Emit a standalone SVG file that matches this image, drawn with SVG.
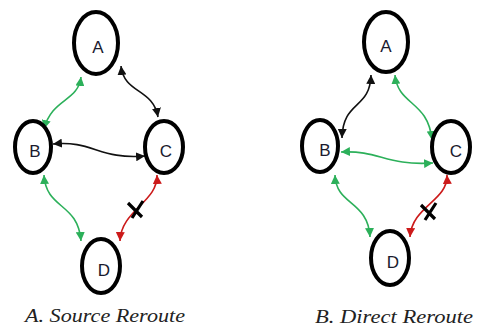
<svg xmlns="http://www.w3.org/2000/svg" width="481" height="327" viewBox="0 0 481 327">
<style>
.node ellipse{fill:#fff;stroke:#000;stroke-width:4}
.node text{font-family:"Liberation Sans","DejaVu Sans",sans-serif;font-size:17px;fill:#1a1a2e;text-anchor:middle}
.c{fill:none;stroke-width:1.6}
.k{stroke:#111}
.g{stroke:#2cb05a}
.r{stroke:#cc1a1a}
.x{stroke:#000;stroke-width:3.2;stroke-linecap:butt}
.cap{font-family:"Liberation Serif","DejaVu Serif",serif;font-style:italic;font-size:18px;fill:#222}
</style>
<defs>
<marker id="ak" viewBox="0 0 10 10" refX="10" refY="5" markerWidth="9" markerHeight="9" markerUnits="userSpaceOnUse" orient="auto-start-reverse"><path d="M0,0 L10,5 L0,10 z" fill="#111"/></marker>
<marker id="ag" viewBox="0 0 10 10" refX="10" refY="5" markerWidth="9" markerHeight="9" markerUnits="userSpaceOnUse" orient="auto-start-reverse"><path d="M0,0 L10,5 L0,10 z" fill="#2cb05a"/></marker>
<marker id="ar" viewBox="0 0 10 10" refX="10" refY="5" markerWidth="9" markerHeight="9" markerUnits="userSpaceOnUse" orient="auto-start-reverse"><path d="M0,0 L10,5 L0,10 z" fill="#cc1a1a"/></marker>
</defs>
<rect width="481" height="327" fill="#fff"/>
<g id="connectors">
<path class="c g" d="M81,77 C78,102 52,98 44,129" marker-start="url(#ag)" marker-end="url(#ag)"/>
<path class="c k" d="M121,66 C124,94 153,88 158,117" marker-start="url(#ak)" marker-end="url(#ak)"/>
<path class="c k" d="M53,144 C92,140 100,160 145,156" marker-start="url(#ak)" marker-end="url(#ak)"/>
<path class="c g" d="M44,175 C46,210 78,202 81,241" marker-start="url(#ag)" marker-end="url(#ag)"/>
<path class="c r" d="M157,175 C158,202 121,210 120,241" marker-start="url(#ar)" marker-end="url(#ar)"/>
<path class="x" d="M128,203 L142,217 M143,201 L132,218"/>
<path class="c k" d="M371,75 C370,110 343,100 342,138" marker-start="url(#ak)" marker-end="url(#ak)"/>
<path class="c g" d="M395,75 C398,106 428,100 432,140" marker-start="url(#ag)" marker-end="url(#ag)"/>
<path class="c g" d="M341,152 C380,150 385,166 433,163" marker-start="url(#ag)" marker-end="url(#ag)"/>
<path class="c g" d="M335,175 C336,206 368,200 370,237" marker-start="url(#ag)" marker-end="url(#ag)"/>
<path class="c r" d="M447,175 C448,201 412,206 410,237" marker-start="url(#ar)" marker-end="url(#ar)"/>
<path class="x" d="M421,205 L435,219 M436,203 L425,220"/>
</g>
<g id="A1" class="node"><ellipse cx="96" cy="43" rx="22" ry="31"/><text x="98" y="53">A</text></g>
<g id="B1" class="node"><ellipse cx="33" cy="147" rx="18" ry="26"/><text x="35" y="157">B</text></g>
<g id="C1" class="node"><ellipse cx="164" cy="147" rx="19" ry="26"/><text x="166" y="157">C</text></g>
<g id="D1" class="node"><ellipse cx="101" cy="266" rx="19" ry="27"/><text x="104" y="276">D</text></g>
<g id="A2" class="node"><ellipse cx="386" cy="42" rx="22" ry="30"/><text x="386" y="52">A</text></g>
<g id="B2" class="node"><ellipse cx="320" cy="146" rx="18" ry="26"/><text x="325" y="156">B</text></g>
<g id="C2" class="node"><ellipse cx="451" cy="147" rx="19" ry="26"/><text x="456" y="157">C</text></g>
<g id="D2" class="node"><ellipse cx="390" cy="258" rx="19" ry="27"/><text x="393" y="268">D</text></g>
<text class="cap" x="25" y="322" textLength="160" lengthAdjust="spacingAndGlyphs">A. Source Reroute</text>
<text class="cap" x="315" y="323" textLength="158" lengthAdjust="spacingAndGlyphs">B. Direct Reroute</text>
</svg>
